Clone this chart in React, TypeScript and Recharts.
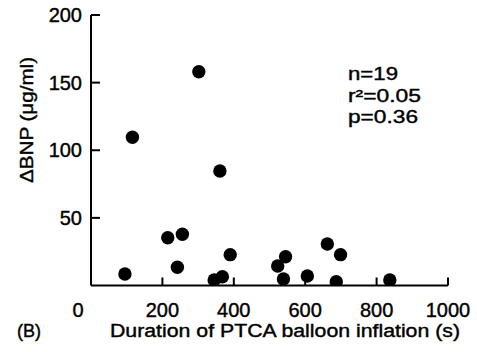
import React from 'react';
import { ScatterChart, Scatter, XAxis, YAxis } from 'recharts';

const durations = [95, 116, 215, 242, 256, 302, 345, 361, 368, 390, 523, 539, 545, 606, 662, 687, 699, 837];
const deltaBNP = [8.5, 109.6, 35.3, 13.5, 37.9, 158, 4.1, 84.7, 6.5, 22.8, 14.4, 4.8, 21.3, 7, 30.7, 2.8, 22.8, 4.1];
const xTicks = [0, 200, 400, 600, 800, 1000];
const yTicks = [50, 100, 150, 200];
const statLines = ['n=19', 'r²=0.05', 'p=0.36'];

const data = durations.map((x, i) => ({ x, y: deltaBNP[i] }));

const FONT = '"Liberation Sans", Arial, Helvetica, sans-serif';
const TEXT_STYLE = { stroke: '#000', strokeWidth: 0.4 };

const XTick = (props: any) => {
  const { x, y, payload } = props;
  const v = payload.value;
  return (
    <g>
      {v !== 0 && <line x1={x} y1={y} x2={x} y2={y - 8} stroke="#000" strokeWidth={2} />}
      <text x={x + (v === 0 ? -13 : 0)} y={y + 24} dy="0.35em" textAnchor="middle" fontSize={20} fontFamily={FONT} fill="#000" style={TEXT_STYLE}>
        {v}
      </text>
    </g>
  );
};

const YTick = (props: any) => {
  const { x, y, payload } = props;
  return (
    <g>
      <line x1={x} y1={y} x2={x + 9} y2={y} stroke="#000" strokeWidth={2} />
      <text x={x - 9} y={y} dy="0.35em" textAnchor="end" fontSize={20} fontFamily={FONT} fill="#000" style={TEXT_STYLE}>
        {payload.value}
      </text>
    </g>
  );
};

const Dot = (props: any) => <circle cx={props.cx} cy={props.cy} r={6.7} fill="#000" />;

export default function App() {
  return (
    <div style={{ position: 'absolute', left: 0, top: 0, width: 477, height: 352, background: '#fff' }}>
      <ScatterChart width={477} height={352} margin={{ top: 15, right: 29, bottom: 36.5, left: 31 }}>
        <XAxis
          type="number"
          dataKey="x"
          domain={[0, 1000]}
          ticks={xTicks}
          tick={<XTick />}
          tickSize={0}
          tickMargin={0}
          tickLine={false}
          height={30}
          axisLine={{ stroke: '#000', strokeWidth: 2 }}
          allowDataOverflow
        />
        <YAxis
          type="number"
          dataKey="y"
          domain={[0, 200]}
          ticks={yTicks}
          tick={<YTick />}
          tickSize={0}
          tickMargin={0}
          tickLine={false}
          width={60}
          axisLine={{ stroke: '#000', strokeWidth: 2 }}
          allowDataOverflow
        />
        <Scatter data={data} shape={<Dot />} isAnimationActive={false} />
      </ScatterChart>
      <svg width={477} height={352} style={{ position: 'absolute', left: 0, top: 0, pointerEvents: 'none' }}>
        <text
          transform="translate(33,183) rotate(-90)"
          x={0}
          y={0}
          fontSize={18}
          fontFamily={FONT}
          fill="#000"
          style={TEXT_STYLE}
          textLength={126}
          lengthAdjust="spacingAndGlyphs"
        >
          ΔBNP (μg/ml)
        </text>
        <text x={17} y={337} fontSize={18} fontFamily={FONT} fill="#000" style={TEXT_STYLE}>(B)</text>
        <text x={110} y={337} fontSize={18} fontFamily={FONT} fill="#000" style={TEXT_STYLE} textLength={350} lengthAdjust="spacingAndGlyphs">
          Duration of PTCA balloon inflation (s)
        </text>
        {statLines.map((s, i) => (
          <text
            key={s}
            x={348}
            y={80 + i * 21.5}
            fontSize={18}
            fontFamily={FONT}
            fill="#000"
            style={TEXT_STYLE}
            textLength={[50, 73, 70][i]}
            lengthAdjust="spacingAndGlyphs"
          >
            {s}
          </text>
        ))}
      </svg>
    </div>
  );
}
